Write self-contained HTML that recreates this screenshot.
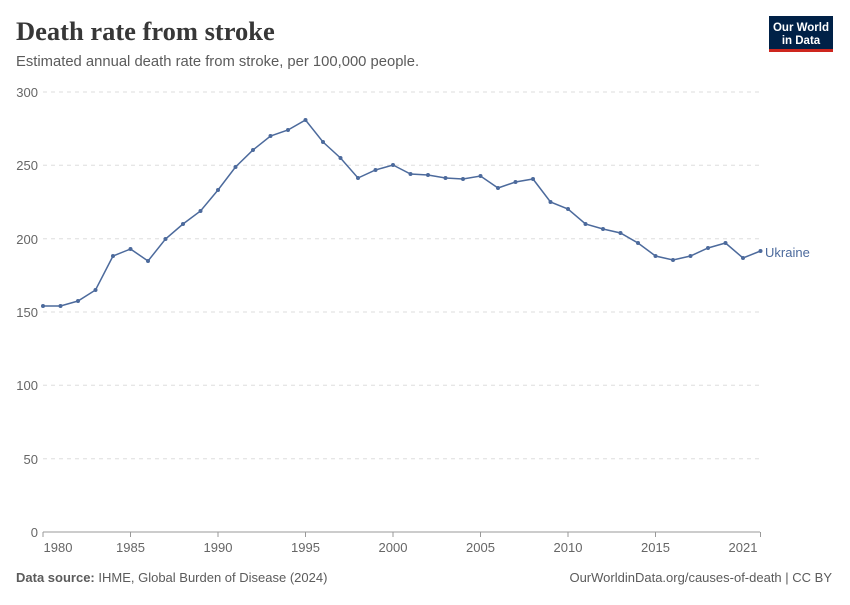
<!DOCTYPE html>
<html><head><meta charset="utf-8"><style>
body{margin:0;background:#fff;width:850px;height:600px;overflow:hidden;font-family:"Liberation Sans",sans-serif}
</style></head><body>
<svg width="850" height="600" xmlns="http://www.w3.org/2000/svg">
<text x="16" y="40" font-family="Liberation Serif,serif" font-size="26.5" font-weight="bold" fill="#373737">Death rate from stroke</text>
<text x="16" y="66" font-size="14.8" fill="#5b5b5b">Estimated annual death rate from stroke, per 100,000 people.</text>
<rect x="769" y="16" width="64" height="36" fill="#002147"/>
<rect x="769" y="49" width="64" height="3" fill="#ce261e"/>
<text x="801" y="31" text-anchor="middle" font-size="11.5" fill="#fff" font-weight="bold">Our World</text>
<text x="801" y="44" text-anchor="middle" font-size="11.5" fill="#fff" font-weight="bold">in Data</text>
<g stroke="#ddd" stroke-dasharray="4,4" stroke-width="1">
<line x1="43" x2="760" y1="92" y2="92"/><line x1="43" x2="760" y1="165.3" y2="165.3"/>
<line x1="43" x2="760" y1="238.7" y2="238.7"/><line x1="43" x2="760" y1="312" y2="312"/>
<line x1="43" x2="760" y1="385.3" y2="385.3"/><line x1="43" x2="760" y1="458.7" y2="458.7"/>
</g>
<line x1="43" x2="760" y1="532" y2="532" stroke="#999"/>
<g font-size="13" fill="#666" text-anchor="end">
<text x="38" y="97">300</text><text x="38" y="170">250</text><text x="38" y="244">200</text>
<text x="38" y="317">150</text><text x="38" y="390">100</text><text x="38" y="464">50</text><text x="38" y="537">0</text>
</g>
<g stroke="#999"><line x1="43" x2="43" y1="532" y2="537"/><line x1="130.5" x2="130.5" y1="532" y2="537"/><line x1="218" x2="218" y1="532" y2="537"/><line x1="305.5" x2="305.5" y1="532" y2="537"/><line x1="393" x2="393" y1="532" y2="537"/><line x1="480.5" x2="480.5" y1="532" y2="537"/><line x1="568" x2="568" y1="532" y2="537"/><line x1="655.5" x2="655.5" y1="532" y2="537"/><line x1="760.5" x2="760.5" y1="532" y2="537"/></g>
<g font-size="13" fill="#666" text-anchor="middle">
<text x="58" y="552">1980</text><text x="130.5" y="552">1985</text><text x="218" y="552">1990</text><text x="305.5" y="552">1995</text><text x="393" y="552">2000</text><text x="480.5" y="552">2005</text><text x="568" y="552">2010</text><text x="655.5" y="552">2015</text><text x="743" y="552">2021</text>
</g>
<polyline fill="none" stroke="#4c6a9c" stroke-width="1.5" points="43,306 60.5,306 78,301 95.5,290 113,256 130.5,249 148,261 165.5,239 183,224 200.5,211 218,190 235.5,167 253,150 270.5,136 288,130 305.5,120 323,142 340.5,158 358,178 375.5,170 393,165 410.5,174 428,175 445.5,178 463,179 480.5,176 498,188 515.5,182 533,179 550.5,202 568,209 585.5,224 603,229 620.5,233 638,243 655.5,256 673,260 690.5,256 708,248 725.5,243 743,258 760.5,251"/>
<g fill="#4c6a9c">
<circle cx="43" cy="306" r="2"/><circle cx="60.5" cy="306" r="2"/><circle cx="78" cy="301" r="2"/><circle cx="95.5" cy="290" r="2"/><circle cx="113" cy="256" r="2"/><circle cx="130.5" cy="249" r="2"/><circle cx="148" cy="261" r="2"/><circle cx="165.5" cy="239" r="2"/><circle cx="183" cy="224" r="2"/><circle cx="200.5" cy="211" r="2"/><circle cx="218" cy="190" r="2"/><circle cx="235.5" cy="167" r="2"/><circle cx="253" cy="150" r="2"/><circle cx="270.5" cy="136" r="2"/><circle cx="288" cy="130" r="2"/><circle cx="305.5" cy="120" r="2"/><circle cx="323" cy="142" r="2"/><circle cx="340.5" cy="158" r="2"/><circle cx="358" cy="178" r="2"/><circle cx="375.5" cy="170" r="2"/><circle cx="393" cy="165" r="2"/><circle cx="410.5" cy="174" r="2"/><circle cx="428" cy="175" r="2"/><circle cx="445.5" cy="178" r="2"/><circle cx="463" cy="179" r="2"/><circle cx="480.5" cy="176" r="2"/><circle cx="498" cy="188" r="2"/><circle cx="515.5" cy="182" r="2"/><circle cx="533" cy="179" r="2"/><circle cx="550.5" cy="202" r="2"/><circle cx="568" cy="209" r="2"/><circle cx="585.5" cy="224" r="2"/><circle cx="603" cy="229" r="2"/><circle cx="620.5" cy="233" r="2"/><circle cx="638" cy="243" r="2"/><circle cx="655.5" cy="256" r="2"/><circle cx="673" cy="260" r="2"/><circle cx="690.5" cy="256" r="2"/><circle cx="708" cy="248" r="2"/><circle cx="725.5" cy="243" r="2"/><circle cx="743" cy="258" r="2"/><circle cx="760.5" cy="251" r="2"/>
</g>
<text x="765" y="257" font-size="13" fill="#4c6a9c">Ukraine</text>
<text x="16" y="582" font-size="13" fill="#5b5b5b"><tspan font-weight="bold">Data source:</tspan> IHME, Global Burden of Disease (2024)</text>
<text x="832" y="582" font-size="13" fill="#5b5b5b" text-anchor="end">OurWorldinData.org/causes-of-death | CC BY</text>
</svg>
</body></html>
